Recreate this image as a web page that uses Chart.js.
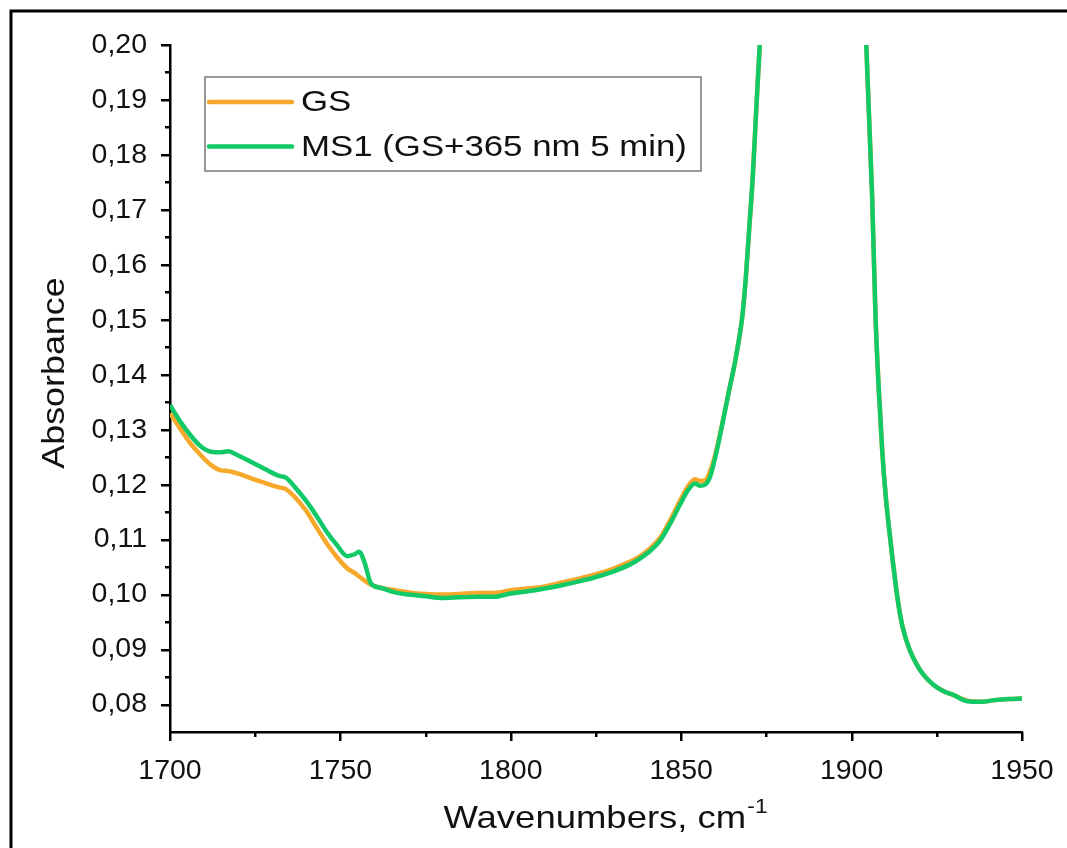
<!DOCTYPE html>
<html>
<head>
<meta charset="utf-8">
<title>Absorbance</title>
<script src="https://cdn.jsdelivr.net/npm/chart.js@4.4.1/dist/chart.umd.min.js"></script>
<style>
    html, body { margin: 0; padding: 0; background: #fff; }
    #wrap { width: 1067px; height: 848px; }
</style>
</head>
<body>
<div id="wrap"><canvas id="spectrum" width="1067" height="848"></canvas></div>
<script>
// --- 1. data ---
const wavenumbers = [
    1700, 1703, 1706, 1709, 1712, 1715, 1717, 1720, 1724, 1728, 1732, 1734, 1737, 1740,
    1743, 1746, 1749, 1752, 1754, 1755.5, 1757, 1759, 1762, 1766, 1770, 1775, 1780, 1785,
    1790, 1795, 1800, 1805, 1810, 1815, 1820, 1825, 1830, 1835, 1838, 1841, 1844, 1847,
    1850, 1852, 1854, 1855.5, 1857, 1858.5, 1860, 1862, 1864, 1866, 1868, 1869, 1870, 1871,
    1872, 1873, 1874, 1876, 1880, 1890, 1900, 1904, 1906, 1907, 1908, 1909, 1910, 1911,
    1912, 1913, 1914, 1915, 1917, 1919, 1921, 1924, 1927, 1930, 1934, 1938, 1942, 1946, 1950
];
const gsValues = [
    0.1330, 0.1302, 0.1275, 0.1254, 0.1236, 0.1226, 0.1225, 0.1220, 0.1211, 0.1203, 0.1195, 0.1192, 0.1175, 0.1152,
    0.1122, 0.1093, 0.1068, 0.1048, 0.1040, 0.1033, 0.1026, 0.1018, 0.1012, 0.1008, 0.1004, 0.1001, 0.1000, 0.1001,
    0.1003, 0.1003, 0.1008, 0.1011, 0.1015, 0.1022, 0.1029, 0.1037, 0.1047, 0.1060, 0.1070, 0.1085, 0.1105, 0.1138,
    0.1175, 0.1197, 0.1210, 0.1207, 0.1208, 0.1225, 0.1255, 0.1310, 0.1370, 0.1430, 0.1510, 0.1580, 0.1670, 0.1760,
    0.1880, 0.1995, 0.2120, 0.2400, 0.3000, 0.5000, 0.3000, 0.2050, 0.1730, 0.1510, 0.1370, 0.1260, 0.1180, 0.1120,
    0.1065, 0.1015, 0.0972, 0.0940, 0.0900, 0.0874, 0.0855, 0.0836, 0.0824, 0.0817, 0.0807, 0.0805, 0.0808, 0.0810, 0.0811
];
const ms1Values = [
    0.1345, 0.1315, 0.1290, 0.1270, 0.1260, 0.1259, 0.1261, 0.1253, 0.1241, 0.1228, 0.1216, 0.1213, 0.1193, 0.1170,
    0.1143, 0.1114, 0.1090, 0.1070, 0.1073, 0.1078, 0.1060, 0.1020, 0.1012, 0.1004, 0.1000, 0.0997, 0.0994, 0.0995,
    0.0996, 0.0996, 0.1002, 0.1006, 0.1011, 0.1017, 0.1024, 0.1032, 0.1042, 0.1055, 0.1066, 0.1080, 0.1100, 0.1132,
    0.1168, 0.1190, 0.1202, 0.1198, 0.1200, 0.1215, 0.1250, 0.1308, 0.1370, 0.1430, 0.1510, 0.1580, 0.1670, 0.1760,
    0.1880, 0.1995, 0.2120, 0.2400, 0.3000, 0.5000, 0.3000, 0.2050, 0.1730, 0.1510, 0.1370, 0.1260, 0.1180, 0.1120,
    0.1065, 0.1015, 0.0972, 0.0940, 0.0900, 0.0874, 0.0855, 0.0836, 0.0824, 0.0817, 0.0806, 0.0805, 0.0808, 0.0810, 0.0811
];
const seriesLabels = ['GS', 'MS1 (GS+365 nm 5 min)'];
const seriesColors = ['#F5A829', '#12C967'];

const xMin = 1700, xMax = 1950, xStep = 25;
const yMin = 0.075, yMax = 0.20, yStep = 0.005;

const FONT = '"Liberation Sans", Arial, sans-serif';

function toPoints(values) {
    return wavenumbers.map((w, i) => ({ x: w, y: values[i] }));
}

function isMajorX(v) { return Math.round(v) % 50 === 0; }
function isMajorY(v) { return Math.round(v * 1000) % 10 === 0; }

// --- 2. plugins: frame, ticks, titles, legend box ---
const framePlugin = {
    id: 'frame',
    beforeDraw(chart) {
        const ctx = chart.ctx;
        ctx.save();
        ctx.fillStyle = '#fff';
        ctx.fillRect(0, 0, chart.width, chart.height);
        ctx.strokeStyle = '#000';
        ctx.lineWidth = 3;
        ctx.beginPath();
        ctx.moveTo(11, chart.height);
        ctx.lineTo(11, 11);
        ctx.lineTo(chart.width, 11);
        ctx.stroke();
        ctx.restore();
    }
};

const ticksPlugin = {
    id: 'outerTicks',
    afterDraw(chart) {
        const ctx = chart.ctx;
        const xs = chart.scales.x, ys = chart.scales.y;
        const area = chart.chartArea;
        ctx.save();
        ctx.strokeStyle = '#000';
        ctx.lineWidth = 2.5;
        ctx.beginPath();
        ys.ticks.forEach(t => {
            if (t.value <= yMin + 1e-9) return;
            const py = Math.round(ys.getPixelForValue(t.value)) + 0.25;
            const len = isMajorY(t.value) ? 9 : 5;
            ctx.moveTo(area.left, py);
            ctx.lineTo(area.left - len, py);
        });
        xs.ticks.forEach(t => {
            const px = Math.round(xs.getPixelForValue(t.value)) + 0.25;
            const len = isMajorX(t.value) ? 9 : 5;
            ctx.moveTo(px, area.bottom);
            ctx.lineTo(px, area.bottom + len);
        });
        ctx.stroke();

        // axis titles
        ctx.fillStyle = '#111';
        ctx.font = '32px ' + FONT;
        ctx.textAlign = 'center';
        ctx.textBaseline = 'middle';
        ctx.save();
        ctx.translate(55, 373);
        ctx.rotate(-Math.PI / 2);
        ctx.scale(1.12, 1);
        ctx.fillText('Absorbance', 0, 0);
        ctx.restore();

        const main = 'Wavenumbers, cm';
        const sup = '-1';
        ctx.save();
        ctx.translate((area.left + area.right) / 2 + 9, 819);
        ctx.scale(1.14, 1);
        ctx.font = '32px ' + FONT;
        const wMain = ctx.measureText(main).width;
        ctx.font = '20px ' + FONT;
        const wSup = ctx.measureText(sup).width;
        const start = -(wMain + wSup) / 2;
        ctx.textAlign = 'left';
        ctx.font = '32px ' + FONT;
        ctx.fillText(main, start, 0);
        ctx.font = '20px ' + FONT;
        ctx.fillText(sup, start + wMain + 1, -12);
        ctx.restore();
        ctx.restore();
    }
};

const legendBoxPlugin = {
    id: 'legendBox',
    afterDraw(chart) {
        const ctx = chart.ctx;
        const area = chart.chartArea;
        const left = area.left + 35, top = area.top + 32;
        const rowGap = 44.5;
        ctx.save();
        ctx.strokeStyle = '#777';
        ctx.lineWidth = 1.5;
        ctx.strokeRect(left, top, 496, 94);
        chart.data.datasets.forEach((ds, i) => {
            const y = top + 25 + i * rowGap;
            ctx.strokeStyle = ds.borderColor;
            ctx.lineWidth = 4.5;
            ctx.lineCap = 'round';
            ctx.beginPath();
            ctx.moveTo(left + 4, y);
            ctx.lineTo(left + 87, y);
            ctx.stroke();
            ctx.save();
            ctx.translate(left + 96, y + 1);
            ctx.scale(1.16, 1);
            ctx.fillStyle = '#111';
            ctx.font = '30px ' + FONT;
            ctx.textAlign = 'left';
            ctx.textBaseline = 'middle';
            ctx.fillText(ds.label, 0, 0);
            ctx.restore();
        });
        ctx.restore();
    }
};

// --- 3. chart ---
function initSpectrumChart() {
    const ctx = document.getElementById('spectrum');
    if (!ctx) return;

    new Chart(ctx, {
        type: 'line',
        data: {
            datasets: [
                {
                    label: seriesLabels[0],
                    data: toPoints(gsValues),
                    borderColor: seriesColors[0],
                    borderWidth: 4.5,
                    pointRadius: 0,
                    cubicInterpolationMode: 'monotone',
                    order: 1
                },
                {
                    label: seriesLabels[1],
                    data: toPoints(ms1Values),
                    borderColor: seriesColors[1],
                    borderWidth: 4.5,
                    pointRadius: 0,
                    cubicInterpolationMode: 'monotone',
                    order: 0
                }
            ]
        },
        options: {
            responsive: false,
            animation: false,
            events: [],
            layout: { padding: { left: 0, right: 45, top: 45, bottom: 0 } },
            plugins: {
                legend: { display: false },
                tooltip: { enabled: false }
            },
            scales: {
                x: {
                    type: 'linear',
                    min: xMin,
                    max: xMax,
                    grid: { display: false, drawTicks: false },
                    border: { display: true, color: '#000', width: 2.5 },
                    ticks: {
                        stepSize: xStep,
                        padding: 22,
                        color: '#111',
                        font: { family: FONT, size: 28.5 },
                        maxRotation: 0,
                        autoSkip: false,
                        callback: v => isMajorX(v) ? String(v) : ''
                    },
                    afterFit: s => { s.height = 116; s.paddingLeft = 0; s.paddingRight = 0; }
                },
                y: {
                    min: yMin,
                    max: yMax,
                    grid: { display: false, drawTicks: false },
                    border: { display: true, color: '#000', width: 2.5 },
                    ticks: {
                        stepSize: yStep,
                        padding: 23,
                        color: '#111',
                        font: { family: FONT, size: 28.5 },
                        autoSkip: false,
                        callback: v => isMajorY(v) ? v.toFixed(2).replace('.', ',') : ''
                    },
                    afterFit: s => { s.width = 170; s.paddingTop = 0; s.paddingBottom = 0; }
                }
            }
        },
        plugins: [framePlugin, ticksPlugin, legendBoxPlugin]
    });
}

document.addEventListener('DOMContentLoaded', initSpectrumChart);
</script>
</body>
</html>
